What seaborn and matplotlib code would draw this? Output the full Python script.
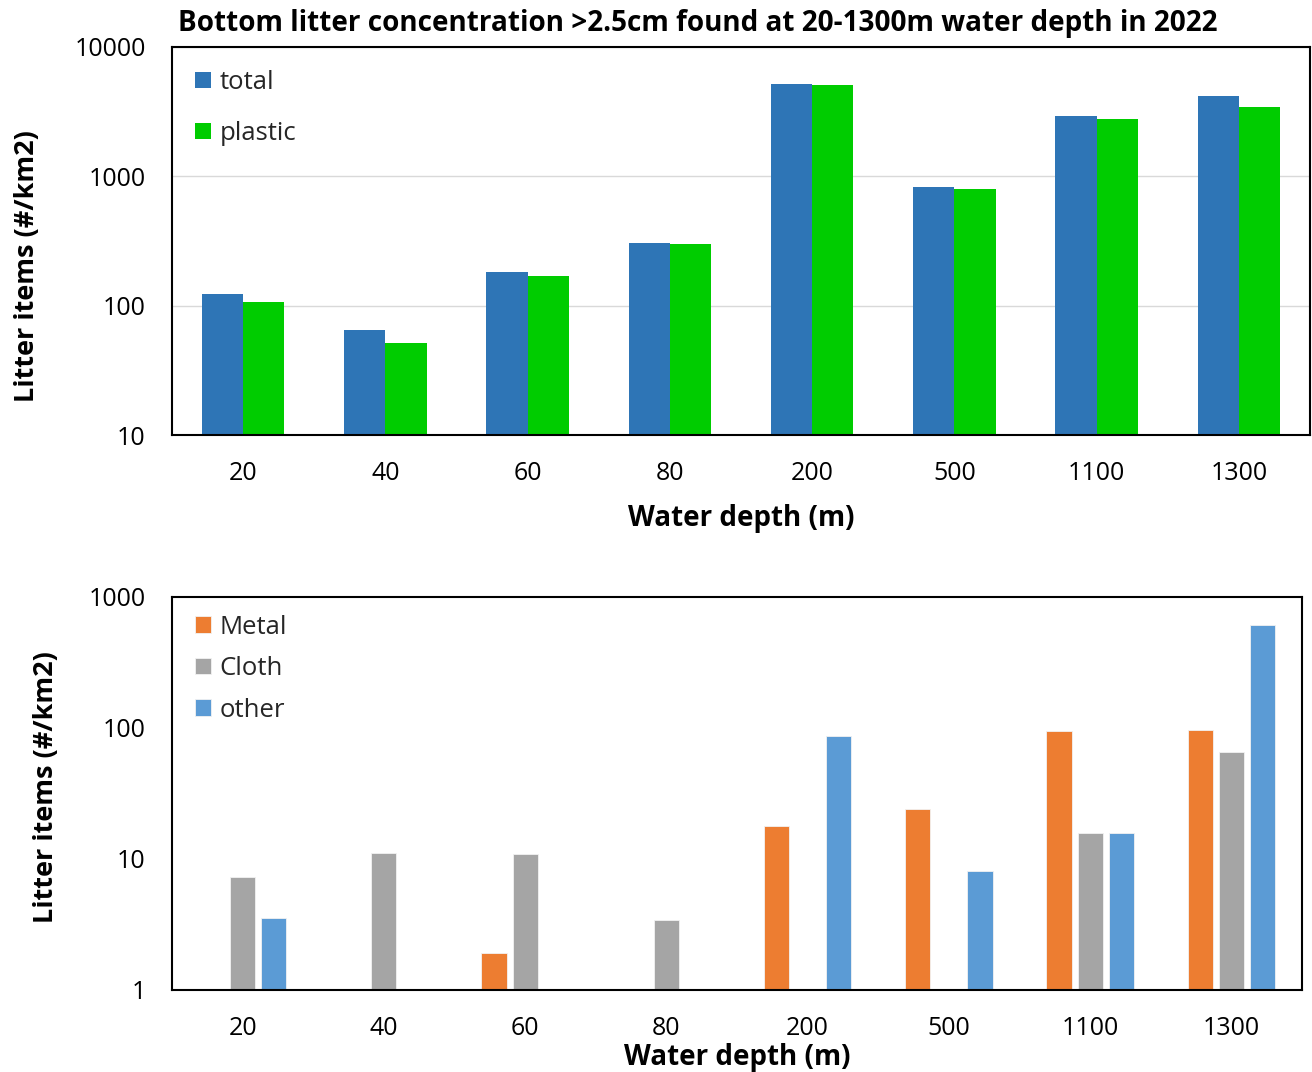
import matplotlib
matplotlib.use("Agg")
import matplotlib.pyplot as plt
import pandas as pd
import seaborn as sns

# Water depth categories (m)
depths = ["20", "40", "60", "80", "200", "500", "1100", "1300"]

# Litter concentration, items per km2
total = [123, 65, 182, 305, 5180, 828, 2930, 4190]
plastic = [107, 51, 170, 300, 5090, 800, 2780, 3440]

# Non-plastic fractions (None = not found at that depth)
metal = [None, None, 1.9, None, 18.0, 24.0, 95, 97]
cloth = [7.3, 11.1, 10.9, 3.4, None, None, 15.9, 66]
other = [3.55, None, None, None, 87, 8.1, 15.9, 606]

top_ticks = [10, 100, 1000, 10000]
bottom_ticks = [1, 10, 100, 1000]

sns.set_theme(style="white")
plt.rcParams["font.family"] = ["Open Sans", "DejaVu Sans"]

def long_table(series):
    rows = []
    for name, vals in series.items():
        for d, v in zip(depths, vals):
            if v is not None:
                rows.append({"depth": d, "kind": name, "value": v})
    return pd.DataFrame(rows)

top_df = long_table({"total": total, "plastic": plastic})
bot_df = long_table({"Metal": metal, "Cloth": cloth, "other": other})

fig = plt.figure(figsize=(13.12, 10.72), dpi=100)
ax1 = fig.add_axes([0.1311, 0.5942, 0.8674, 0.3620])
ax2 = fig.add_axes([0.1311, 0.0765, 0.8613, 0.3666])

tick_fs = 18
leg_fs = 18.5

sns.barplot(data=top_df, x="depth", y="value", hue="kind", order=depths,
            hue_order=["total", "plastic"],
            palette={"total": "#2E75B6", "plastic": "#00CC00"}, saturation=1,
            width=0.58, gap=0, errorbar=None, linewidth=0, ax=ax1)
sns.barplot(data=bot_df, x="depth", y="value", hue="kind", order=depths,
            hue_order=["Metal", "Cloth", "other"],
            palette={"Metal": "#ED7D31", "Cloth": "#A5A5A5", "other": "#5B9BD5"},
            saturation=1, width=0.66, gap=0.19, errorbar=None,
            edgecolor="#F2F2F2", linewidth=0.6, ax=ax2)

for ax, ticks, spacing, top in ((ax1, top_ticks, 1.0, 1.0), (ax2, bottom_ticks, 0.64, 1.014)):
    ax.set_yscale("log")
    ax.set_ylim(ticks[0], ticks[-1])
    ax.set_xlim(-0.5, len(depths) - 0.5)
    ax.set_yticks(ticks)
    ax.set_yticklabels([str(t) for t in ticks])
    ax.minorticks_off()
    ax.tick_params(axis="both", length=0, labelsize=tick_fs, colors="black", pad=19)
    for s in ax.spines.values():
        s.set_visible(True)
        s.set_color("black")
        s.set_linewidth(1.5)
    ax.set_ylabel("Litter items (#/km2)", fontsize=19.5, fontweight="bold", color="black")
    ax.set_xlabel("Water depth (m)", fontsize=20, fontweight="bold", color="black")
    ax.legend(loc="upper left", bbox_to_anchor=(0.0, top), frameon=False,
              fontsize=leg_fs, handlelength=0.6, handleheight=0.6,
              handletextpad=0.35, labelspacing=spacing)

ax1.yaxis.grid(True, color="#D9D9D9", linewidth=1)
ax1.set_axisbelow(True)
ax1.xaxis.labelpad = 13
ax2.xaxis.labelpad = 1
ax1.yaxis.set_label_coords(-0.116, 0.436)
ax2.yaxis.set_label_coords(-0.100, 0.517)

fig.text(0.532, 1 - 23 / 1072, "Bottom litter concentration >2.5cm found at 20-1300m water depth in 2022",
         ha="center", va="center", fontsize=20.1, fontweight="bold", color="black")

fig.savefig("out.png", dpi=100)
